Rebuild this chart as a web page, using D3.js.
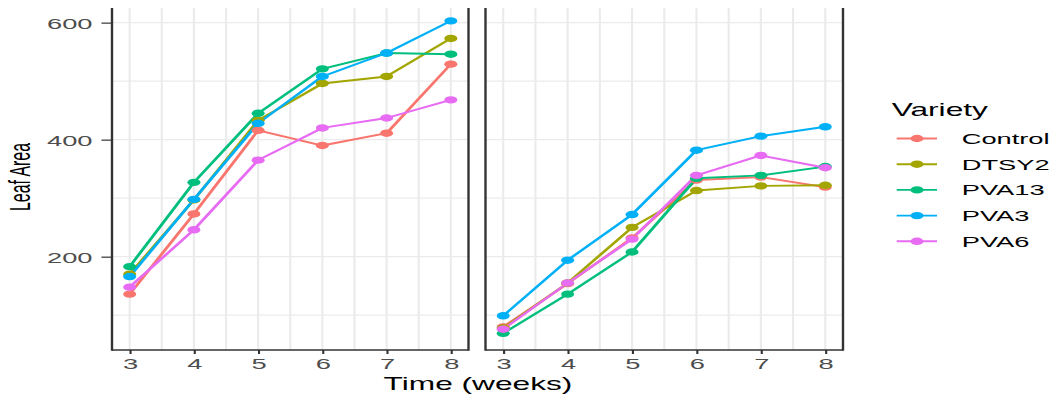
<!DOCTYPE html>
<html>
<head>
<meta charset="utf-8">
<script src="https://cdn.jsdelivr.net/npm/d3@7"></script>
<style>
  html, body { margin: 0; padding: 0; background: #fff; }
  svg { display: block; }
</style>
</head>
<body>
<svg id="chart"></svg>
<script>
// ---- data ----
const weeks = [3, 4, 5, 6, 7, 8];
const varieties = ["Control", "DTSY2", "PVA13", "PVA3", "PVA6"];
const colors = ["#F8766D", "#A3A500", "#00BF7D", "#00B0F6", "#E76BF3"];
const yTicks = [200, 400, 600];
const yMinor = [100, 300, 500];

// leaf area per variety, first facet
const leftControl = [136, 273, 416, 390, 411, 529];
const leftDTSY2   = [170, 297, 433, 496, 508, 573];
const leftPVA13   = [183, 327, 445, 521, 548, 546];
const leftPVA3    = [166, 298, 428, 508, 548, 603];
const leftPVA6    = [148, 246, 365, 420, 437, 468];

// leaf area per variety, second facet
const rightControl = [80, 154, 232, 331, 336, 319];
const rightDTSY2   = [78, 155, 250, 313, 321, 322];
const rightPVA13   = [69, 136, 208, 334, 339, 354];
const rightPVA3    = [99, 194, 272, 382, 406, 422];
const rightPVA6    = [76, 155, 230, 339, 373, 352];

const facets = [
  [leftControl, leftDTSY2, leftPVA13, leftPVA3, leftPVA6],
  [rightControl, rightDTSY2, rightPVA13, rightPVA3, rightPVA6]
];

// ---- layout (the whole drawing is widened horizontally by SX) ----
const W = 1054, H = 396, SX = 1.76;
const LW = W / SX;
const svg = d3.select("#chart")
  .attr("width", W).attr("height", H)
  .attr("viewBox", `0 0 ${LW} ${H}`)
  .attr("preserveAspectRatio", "none");

const FONT = "'Liberation Sans', Arial, Helvetica, sans-serif";
const panelTop = 8, panelBottom = 350;
const panelsX = [[112, 468.5], [485.5, 843]];
const LINE_W = 1.9, POINT_R = 3.7;

const y = d3.scaleLinear().domain([40.5, 625]).range([panelBottom, panelTop]);

const line = (x) => d3.line()
  .x((d, i) => x(weeks[i]))
  .y(d => y(d));

facets.forEach((series, p) => {
  const [l, r] = panelsX[p];
  const x = d3.scaleLinear().domain([2.725, 8.275]).range([l / SX, r / SX]);
  const g = svg.append("g");

  // grid
  const grid = g.append("g").attr("stroke", "#EBEBEB").attr("stroke-width", 1.2);
  yMinor.concat(yTicks).forEach(v => {
    grid.append("line").attr("x1", l / SX).attr("x2", r / SX)
      .attr("y1", y(v)).attr("y2", y(v));
  });
  const xMinor = d3.range(3.5, 8, 1);
  weeks.concat(xMinor).forEach(v => {
    grid.append("line").attr("x1", x(v)).attr("x2", x(v))
      .attr("y1", panelTop).attr("y2", panelBottom);
  });

  // series lines
  series.forEach((vals, k) => {
    g.append("path").datum(vals)
      .attr("fill", "none")
      .attr("stroke", colors[k])
      .attr("stroke-width", LINE_W)
      .attr("stroke-linejoin", "round")
      .attr("d", line(x));
  });
  // series points
  series.forEach((vals, k) => {
    g.selectAll(null).data(vals).enter().append("circle")
      .attr("cx", (d, i) => x(weeks[i]))
      .attr("cy", d => y(d))
      .attr("r", POINT_R)
      .attr("fill", colors[k]);
  });

  // panel frame: left, right, bottom
  const frame = g.append("g").attr("stroke", "#333333").attr("stroke-width", 1.35);
  frame.append("line").attr("x1", l / SX).attr("x2", l / SX).attr("y1", panelTop).attr("y2", panelBottom + 0.7);
  frame.append("line").attr("x1", r / SX).attr("x2", r / SX).attr("y1", panelTop).attr("y2", panelBottom + 0.7);
  frame.append("line").attr("x1", l / SX).attr("x2", r / SX).attr("y1", panelBottom).attr("y2", panelBottom);

  // x axis
  const xAxis = d3.axisBottom(x).tickValues(weeks).tickSize(4).tickPadding(3).tickFormat(d3.format("d"));
  const ax = g.append("g").attr("transform", `translate(0,${panelBottom})`).call(xAxis);
  ax.select(".domain").remove();
  ax.selectAll(".tick line").attr("stroke", "#333333").attr("stroke-width", 1.2);
  ax.selectAll(".tick text")
    .attr("fill", "#4D4D4D")
    .attr("font-family", FONT)
    .attr("font-size", 15.5)
    .attr("y", 14)
    .attr("dy", "0.35em");

  // y axis on first facet only
  if (p === 0) {
    const yAxis = d3.axisLeft(y).tickValues(yTicks).tickSize(6).tickPadding(4);
    const ay = g.append("g").attr("transform", `translate(${l / SX},0)`).call(yAxis);
    ay.select(".domain").remove();
    ay.selectAll(".tick line").attr("stroke", "#333333").attr("stroke-width", 1.2);
    ay.selectAll(".tick text")
      .attr("fill", "#4D4D4D")
      .attr("font-family", FONT)
      .attr("font-size", 15.5)
      .attr("x", -(l - 92.5) / SX)
      .attr("dy", "0.36em");
  }
});

// axis titles
svg.append("text")
  .attr("x", 478 / SX).attr("y", 390)
  .attr("text-anchor", "middle")
  .attr("font-family", FONT).attr("font-size", 18)
  .attr("fill", "#000")
  .text("Time (weeks)");

svg.append("text")
  .attr("transform", `translate(${30 / SX},${177}) rotate(-90)`)
  .attr("text-anchor", "middle")
  .attr("font-family", FONT).attr("font-size", 17)
  .attr("textLength", 68).attr("lengthAdjust", "spacingAndGlyphs")
  .attr("fill", "#000")
  .text("Leaf Area");

// legend
const legend = svg.append("g");
legend.append("text")
  .attr("x", 891.7 / SX).attr("y", 116)
  .attr("font-family", FONT).attr("font-size", 18)
  .attr("fill", "#000")
  .text("Variety");

varieties.forEach((name, k) => {
  const cy = 138.5 + k * 25.7;
  legend.append("line")
    .attr("x1", 896.7 / SX).attr("x2", 937 / SX)
    .attr("y1", cy).attr("y2", cy)
    .attr("stroke", colors[k]).attr("stroke-width", LINE_W);
  legend.append("circle")
    .attr("cx", 917 / SX).attr("cy", cy).attr("r", POINT_R)
    .attr("fill", colors[k]);
  legend.append("text")
    .attr("x", 961.7 / SX).attr("y", cy)
    .attr("dy", "0.36em")
    .attr("font-family", FONT).attr("font-size", 15.5)
    .attr("fill", "#000")
    .text(name);
});
</script>
</body>
</html>
